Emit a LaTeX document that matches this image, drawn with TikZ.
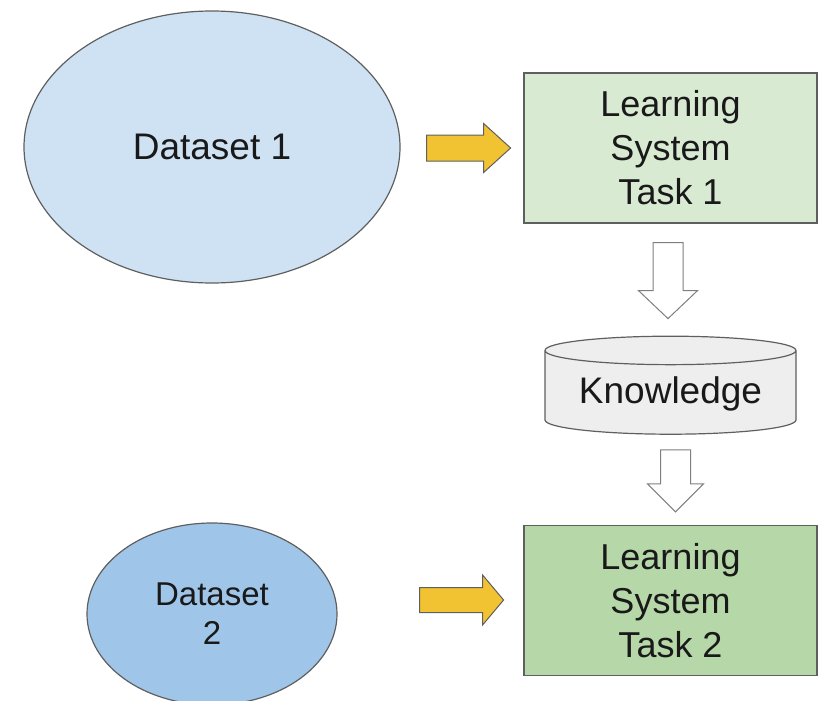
\documentclass[tikz,border=0pt]{standalone}
\usepackage{fontspec}
\setmainfont{Liberation Sans}
\usetikzlibrary{shapes.geometric,positioning,calc}
\definecolor{dsone}{HTML}{CFE2F3}
\definecolor{dstwo}{HTML}{9FC5E8}
\definecolor{taskone}{HTML}{D9EAD3}
\definecolor{tasktwo}{HTML}{B6D7A8}
\definecolor{kbgray}{HTML}{EEEEEE}
\definecolor{goldarrow}{HTML}{F1C232}
\definecolor{edgegray}{HTML}{5F5F5F}
% block arrow: length, shaft width, head width, head length
\tikzset{pics/fatarrow/.style n args={4}{code={
 \draw[pic actions] (0,{-#2/2}) -- ({#1-#4},{-#2/2}) -- ({#1-#4},{-#3/2}) -- (#1,0)
  -- ({#1-#4},{#3/2}) -- ({#1-#4},{#2/2}) -- (0,{#2/2}) -- cycle;}}}

\begin{document}
\begin{tikzpicture}[x=1pt,y=-1pt,
 ds/.style={ellipse,draw=edgegray,line width=1.2pt,align=center,text=black!90},
 tb/.style={draw=edgegray,line width=1.2pt,minimum width=293pt,minimum height=150pt,align=center,text=black!90,font=\fontsize{36}{44}\selectfont},
 ya/.style={draw=edgegray,line width=1pt,fill=goldarrow},
 wa/.style={draw=edgegray!80,line width=1pt,fill=white}]
\useasboundingbox (0,0) rectangle (825,701);
\node[ds,fill=dsone,minimum width=376pt,minimum height=272pt,font=\fontsize{37}{44}\selectfont] (ds1) at (212,147) {Dataset 1};
\node[tb,fill=taskone] (task1) at (670.5,148) {Learning\\System\\Task 1};
\node[cylinder,shape border rotate=90,aspect=0.15,draw=edgegray,line width=1.2pt,fill=kbgray,text=black!90,
 minimum width=251pt,minimum height=98pt,font=\fontsize{37}{44}\selectfont,below=112pt of task1] (kb) {Knowledge};
\node[tb,fill=tasktwo,below=90pt of kb] (task2) {Learning\\System\\Task 2};
\node[ds,fill=dstwo,minimum width=250pt,minimum height=182pt,font=\fontsize{33}{39}\selectfont] (ds2) at (212,614) {Dataset\\2};
% arrows
\pic[ya] at ($(ds1.east)+(26,1)$) {fatarrow={84}{26}{49}{27}};
\pic[ya] at ($(ds2.east)+(82,-14)$) {fatarrow={84}{25}{50}{21}};
\pic[wa,rotate=-90] at ($(task1.south)+(-2.5,19)$) {fatarrow={76}{30}{59}{28}};
\pic[wa,rotate=-90] at ($(kb.south)+(5,15)$) {fatarrow={62}{30}{56}{28}};
\end{tikzpicture}
\end{document}
